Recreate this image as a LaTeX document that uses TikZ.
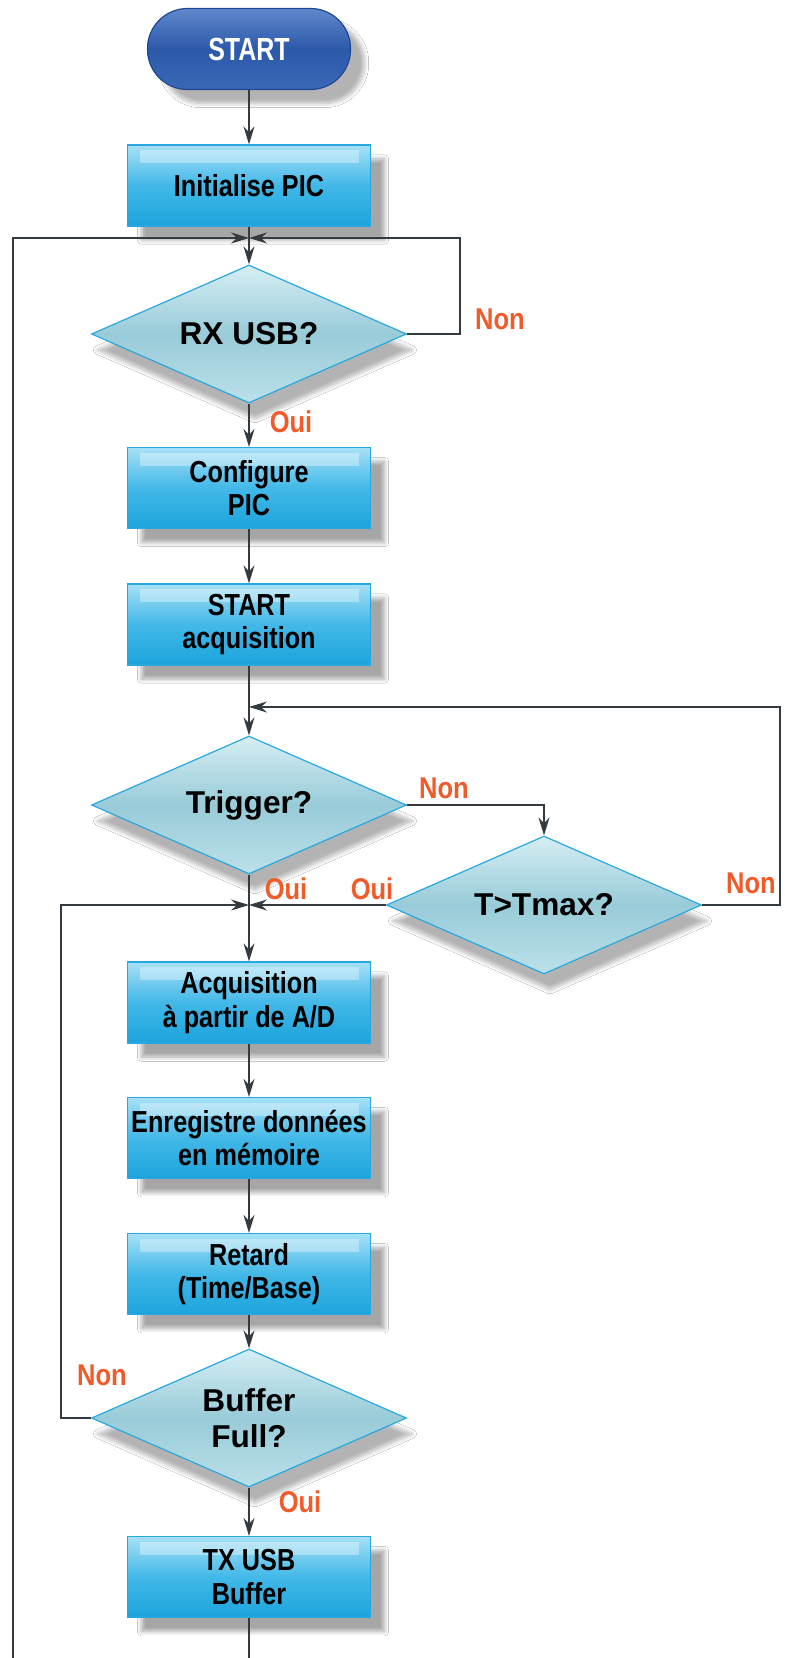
\documentclass[tikz,border=0pt]{standalone}
\usepackage{fontspec}
\setmainfont{Liberation Sans}
\newfontfamily\condfont[FakeStretch=0.83]{Liberation Sans}
\newfontfamily\termfont[FakeStretch=0.78]{Liberation Sans}
\newfontfamily\answerfont[FakeStretch=0.85]{Liberation Sans}
\usetikzlibrary{arrows.meta,shapes.geometric,shadows.blur}

\definecolor{wire}{HTML}{333A40}
\definecolor{boxline}{HTML}{29A8DF}
\definecolor{boxtop}{HTML}{A6E0F6}
\definecolor{boxmid}{HTML}{42B8E8}
\definecolor{boxbot}{HTML}{1CA4DC}
\definecolor{dectop}{HTML}{D6EEF4}
\definecolor{decmid}{HTML}{98CBD8}
\definecolor{decbot}{HTML}{BBE0E9}
\definecolor{termtop}{HTML}{5F88CC}
\definecolor{termmid}{HTML}{2D59AA}
\definecolor{termbot}{HTML}{3A67B6}
\definecolor{termline}{HTML}{1D4795}
\definecolor{answer}{HTML}{F15A29}

\begin{document}
\begin{tikzpicture}[x=0.5pt, y=-0.5pt, line width=0.65pt,
    >={Stealth[length=9pt,width=5.5pt,inset=3pt]},
    flow/.style={draw=wire},
    box/.style={rectangle, draw=boxline, line width=0.6pt, top color=boxtop, bottom color=boxbot, middle color=boxmid,
      minimum width=121.5pt, minimum height=40.5pt, inner sep=1pt, align=center,
      font=\condfont\bfseries\fontsize{15.2}{16.7}\selectfont,
      blur shadow={shadow xshift=7pt, shadow yshift=-7pt, shadow blur steps=8, shadow opacity=35},
      path picture={\fill[white, opacity=0.35] ([xshift=6pt,yshift=-2.5pt]path picture bounding box.north west) rectangle ([xshift=-6pt,yshift=-9pt]path picture bounding box.north east);}},
    decision/.style={diamond, aspect=2.28, draw=boxline, line width=0.6pt, top color=dectop, bottom color=decbot, middle color=decmid,
      minimum width=157.5pt, minimum height=69pt, inner sep=1pt, align=center,
      font=\bfseries\fontsize{15.8}{18}\selectfont,
      blur shadow={shadow xshift=3pt, shadow yshift=-8pt, shadow blur steps=8, shadow opacity=30}},
    terminal/.style={rectangle, rounded corners=20pt, draw=termline, line width=0.6pt, top color=termtop, bottom color=termbot, middle color=termmid,
      minimum width=101.5pt, minimum height=40.5pt, text=white,
      font=\termfont\bfseries\fontsize{16}{18}\selectfont,
      blur shadow={shadow xshift=7pt, shadow yshift=-7pt, shadow blur steps=8, shadow opacity=30}},
    lbl/.style={text=answer, inner sep=0pt, font=\answerfont\bfseries\fontsize{15}{17}\selectfont}]

  \fill[white] (0,0) rectangle (784,1658);
  \useasboundingbox (0,0) rectangle (784,1658);

  % main column
  \node[terminal] (start) at (249,49) {START};
  \node[box] (init) at (249,185.5) {Initialise PIC};
  \node[decision] (rx) at (249,334) {RX USB?};
  \node[box] (config) at (249,488) {Configure\\PIC};
  \node[box] (startacq) at (249,624.5) {START\\acquisition};
  \node[decision] (trig) at (249,805) {Trigger?};
  \node[decision] (tmax) at (544,905) {T>Tmax?};
  \node[box] (acq) at (249,1002.5) {Acquisition\\à partir de A/D};
  \node[box] (store) at (249,1138) {Enregistre données\\en mémoire};
  \node[box] (retard) at (249,1274) {Retard\\(Time/Base)};
  \node[decision] (buf) at (249,1418) {Buffer\\Full?};
  \node[box] (tx) at (249,1577) {TX USB\\Buffer};

  % junctions and loop corners
  \coordinate (j1) at (249,238);
  \coordinate (j2) at (249,707);
  \coordinate (j3) at (249,905);
  \coordinate (rxloop) at (460,238);
  \coordinate (tmaxloop) at (780,707);
  \coordinate (bufloop) at (61,905);
  \coordinate (outtop) at (13,238);
  \coordinate (outbot) at (13,1690);

  \node[lbl] (rxnon) at (500,319) {Non};
  \node[lbl] (rxoui) at (291,422) {Oui};
  \node[lbl] (trignon) at (444,788) {Non};
  \node[lbl] (trigoui) at (286,889) {Oui};
  \node[lbl] (tmaxoui) at (372,889) {Oui};
  \node[lbl] (tmaxnon) at (751,883) {Non};
  \node[lbl] (bufnon) at (102,1375) {Non};
  \node[lbl] (bufoui) at (300,1502) {Oui};

  \draw[flow,->] (start) -- (init);
  \draw[flow] (init) -- (j1);
  \draw[flow,->] (j1) -- (rx);
  \draw[flow,->] (rx.east) -| (rxloop) -- (j1);
  \draw[flow,->] (rx) -- (config);
  \draw[flow,->] (config) -- (startacq);
  \draw[flow] (startacq) -- (j2);
  \draw[flow,->] (j2) -- (trig);
  \draw[flow,->] (trig.east) -| (tmax.north);
  \draw[flow,->] (tmax.east) -| (tmaxloop) -- (j2);
  \draw[flow,->] (tmax.west) -- (j3);
  \draw[flow] (trig) -- (j3);
  \draw[flow,->] (j3) -- (acq);
  \draw[flow,->] (acq) -- (store);
  \draw[flow,->] (store) -- (retard);
  \draw[flow,->] (retard) -- (buf);
  \draw[flow,->] (buf.west) -| (bufloop) -- (j3);
  \draw[flow,->] (buf) -- (tx);
  \draw[flow,->] (tx) -- (tx |- outbot) -- (outbot) -- (outtop) -- (j1);
\end{tikzpicture}
\end{document}
